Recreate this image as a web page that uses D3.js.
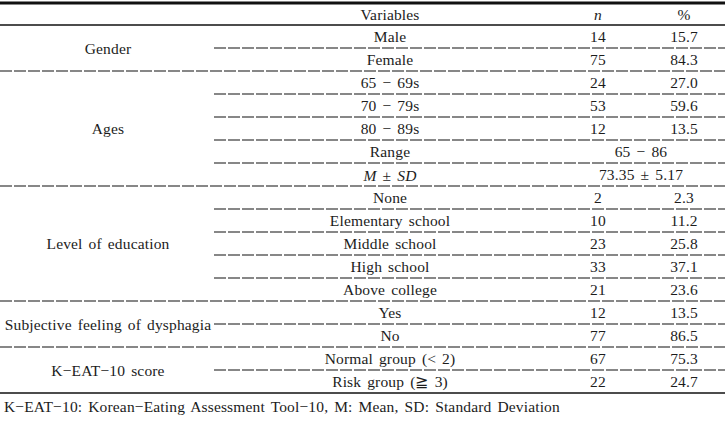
<!DOCTYPE html>
<html><head><meta charset="utf-8">
<script src="https://cdn.jsdelivr.net/npm/d3@7"></script>
<style>
html,body{margin:0;padding:0;background:#fff;}
svg{display:block;}
text{font-family:"Liberation Serif","DejaVu Serif",serif;font-size:15.5px;fill:#1c1c1c;word-spacing:2px;letter-spacing:0.15px;}
</style></head>
<body>
<script>
// ---- data ----
const headers = ["Variables", "n", "%"];
const groupNames = ["Gender", "Ages", "Level of education", "Subjective feeling of dysphagia", "K−EAT−10 score"];
const groupItems = [
  ["Male", "Female"],
  ["65 − 69s", "70 − 79s", "80 − 89s", "Range", "M ± SD"],
  ["None", "Elementary school", "Middle school", "High school", "Above college"],
  ["Yes", "No"],
  ["Normal group (< 2)", "Risk group (≧ 3)"]
];
const nValues = [
  [14, 75],
  [24, 53, 12, null, null],
  [2, 10, 23, 33, 21],
  [12, 77],
  [67, 22]
];
const pctValues = [
  ["15.7", "84.3"],
  ["27.0", "59.6", "13.5", null, null],
  ["2.3", "11.2", "25.8", "37.1", "23.6"],
  ["13.5", "86.5"],
  ["75.3", "24.7"]
];
const spanValues = [
  [null, null],
  [null, null, null, "65 − 86", "73.35 ± 5.17"],
  [null, null, null, null, null],
  [null, null],
  [null, null]
];
const footnote = "K−EAT−10: Korean−Eating Assessment Tool−10, M: Mean, SD: Standard Deviation";

// ---- layout ----
const W = 725, H = 421;
const svg = d3.select("body").append("svg").attr("width", W).attr("height", H);

// flatten rows
const rows = [];
groupItems.forEach((items, g) => items.forEach((it, k) => rows.push({
  g, k, last: k === items.length - 1, label: it,
  n: nValues[g][k], pct: pctValues[g][k], span: spanValues[g][k]
})));

const y = d3.scaleLinear().domain([0, rows.length]).range([25, 393]);
const colX = {group: 108, Variables: 390, n: 598, "%": 684, span: 641};
const subStart = 214;

// top rule
svg.append("line").attr("x1", 0).attr("x2", W).attr("y1", 3).attr("y2", 3)
  .attr("stroke", "#111").attr("stroke-width", 3);
// header rule
svg.append("line").attr("x1", 0).attr("x2", W).attr("y1", y(0)).attr("y2", y(0))
  .attr("stroke", "#111").attr("stroke-width", 1.3);

// header texts
svg.append("text").attr("x", colX.Variables).attr("y", 14).attr("text-anchor", "middle")
  .attr("dominant-baseline", "central").text(headers[0]);
svg.append("text").attr("x", colX.n).attr("y", 14).attr("text-anchor", "middle")
  .attr("dominant-baseline", "central").attr("font-style", "italic").text(headers[1]);
svg.append("text").attr("x", colX["%"]).attr("y", 14).attr("text-anchor", "middle")
  .attr("dominant-baseline", "central").text(headers[2]);

// row separators
rows.forEach((r, i) => {
  if (i === rows.length - 1) return;
  svg.append("line")
    .attr("x1", r.last ? 0 : subStart).attr("x2", W)
    .attr("y1", y(i + 1)).attr("y2", y(i + 1))
    .attr("stroke", "#111").attr("stroke-width", 1.2)
    .attr("stroke-dasharray", "12,2");
});
// bottom rule
svg.append("line").attr("x1", 0).attr("x2", W).attr("y1", y(rows.length)).attr("y2", y(rows.length))
  .attr("stroke", "#111").attr("stroke-width", 1.3);

// group labels
let start = 0;
groupItems.forEach((items, g) => {
  const cy = (y(start) + y(start + items.length)) / 2;
  svg.append("text").attr("x", colX.group).attr("y", cy)
    .attr("text-anchor", "middle").attr("dominant-baseline", "central")
    .text(groupNames[g]);
  start += items.length;
});

// row cells
const cy = i => (y(i) + y(i + 1)) / 2;
rows.forEach((r, i) => {
  const t = svg.append("text").attr("x", colX.Variables).attr("y", cy(i))
    .attr("text-anchor", "middle").attr("dominant-baseline", "central");
  if (r.label === "M ± SD") {
    t.append("tspan").attr("font-style", "italic").text("M");
    t.append("tspan").text(" ± ");
    t.append("tspan").attr("font-style", "italic").text("SD");
  } else t.text(r.label);
  if (r.span !== null) {
    svg.append("text").attr("x", colX.span).attr("y", cy(i))
      .attr("text-anchor", "middle").attr("dominant-baseline", "central").text(r.span);
  } else {
    svg.append("text").attr("x", colX.n).attr("y", cy(i))
      .attr("text-anchor", "middle").attr("dominant-baseline", "central").text(r.n);
    svg.append("text").attr("x", colX["%"]).attr("y", cy(i))
      .attr("text-anchor", "middle").attr("dominant-baseline", "central").text(r.pct);
  }
});

// footnote
svg.append("text").attr("x", 4).attr("y", 406).attr("dominant-baseline", "central")
  .text(footnote);
</script>
</body></html>
